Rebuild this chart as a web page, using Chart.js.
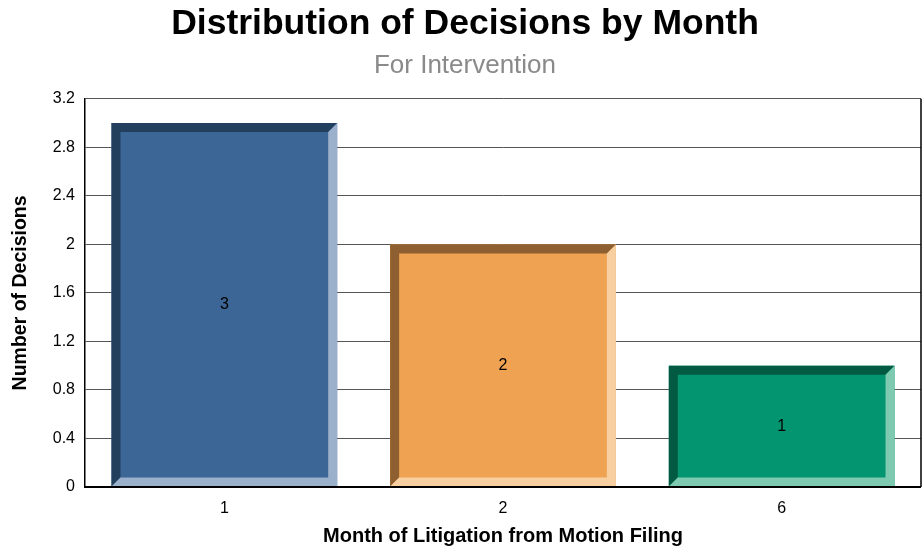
<!DOCTYPE html>
<html>
<head>
<meta charset="utf-8">
<script src="https://cdn.jsdelivr.net/npm/chart.js@4"></script>
<style>
  html, body { margin: 0; padding: 0; background: #fff; }
  #wrap { width: 924px; height: 548px; }
</style>
</head>
<body>
<div id="wrap"><canvas id="chart" width="924" height="548"></canvas></div>
<script>
const months = ['1', '2', '6'];
const decisions = [3, 2, 1];
const barColors = ['#3b6696', '#efa352', '#039570'];
const darkEdges = ['#223f5e', '#8e5f30', '#025a42'];
const lightEdges = ['#9ab0cb', '#f7cfa1', '#7ecab1'];
const yTicks = [0, 0.4, 0.8, 1.2, 1.6, 2, 2.4, 2.8, 3.2];

const FONT = "'Liberation Sans', Arial, sans-serif";

// bevelled look: dark top/left, light right/bottom
const bevelPlugin = {
    id: 'bevel',
    afterDatasetsDraw: function(chart) {
        const ctx = chart.ctx;
        const meta = chart.getDatasetMeta(0);
        meta.data.forEach(function(bar, i) {
            const L = bar.x - bar.width / 2, R = bar.x + bar.width / 2;
            const T = bar.y, B = bar.base;
            const b = 9;
            ctx.save();
            ctx.fillStyle = darkEdges[i];
            ctx.beginPath();
            ctx.moveTo(L, T); ctx.lineTo(R, T); ctx.lineTo(R - b, T + b);
            ctx.lineTo(L + b, T + b); ctx.lineTo(L + b, B - b); ctx.lineTo(L, B);
            ctx.closePath(); ctx.fill();
            ctx.fillStyle = lightEdges[i];
            ctx.beginPath();
            ctx.moveTo(R, T); ctx.lineTo(R, B); ctx.lineTo(L, B);
            ctx.lineTo(L + b, B - b); ctx.lineTo(R - b, B - b); ctx.lineTo(R - b, T + b);
            ctx.closePath(); ctx.fill();

            ctx.fillStyle = '#000';
            ctx.font = '16px ' + FONT;
            ctx.textAlign = 'center';
            ctx.textBaseline = 'middle';
            ctx.fillText(String(decisions[i]), bar.x, (T + B) / 2);
            ctx.restore();
        });

        // frame: right edge and bottom axis
        const a = chart.chartArea;
        ctx.save();
        ctx.strokeStyle = '#000';
        ctx.lineWidth = 1.5;
        ctx.beginPath();
        ctx.moveTo(a.right, a.top); ctx.lineTo(a.right, a.bottom);
        ctx.stroke();
        ctx.lineWidth = 2;
        ctx.beginPath();
        ctx.moveTo(a.left, a.bottom); ctx.lineTo(a.right, a.bottom);
        ctx.stroke();
        ctx.restore();
    }
};

new Chart(document.getElementById('chart').getContext('2d'), {
    type: 'bar',
    data: {
        labels: months,
        datasets: [{
            data: decisions,
            backgroundColor: barColors,
            borderWidth: 0,
            categoryPercentage: 1,
            barPercentage: 0.81
        }]
    },
    options: {
        responsive: false,
        animation: false,
        layout: { padding: { left: 9, right: 3, top: 0, bottom: 0 } },
        plugins: {
            legend: { display: false },
            tooltip: { enabled: false },
            title: {
                display: true,
                text: 'Distribution of Decisions by Month',
                color: '#000',
                font: { family: FONT, size: 35.5, weight: 'bold', lineHeight: 1.2 },
                padding: { top: 3, bottom: 5 }
            },
            subtitle: {
                display: true,
                text: 'For Intervention',
                color: '#8a8a8a',
                font: { family: FONT, size: 26, lineHeight: 1.2 },
                padding: { top: 0, bottom: 17 }
            }
        },
        scales: {
            x: {
                afterFit: function(scale) { scale.height = 61; },
                grid: { display: false, drawTicks: false },
                border: { display: false },
                ticks: { color: '#000', font: { family: FONT, size: 16 }, padding: 12 },
                title: {
                    display: true,
                    text: 'Month of Litigation from Motion Filing',
                    color: '#000',
                    font: { family: FONT, size: 20, weight: 'bold', lineHeight: 1.2 },
                    padding: { top: 0, bottom: 0 }
                }
            },
            y: {
                min: 0,
                max: 3.2,
                afterBuildTicks: function(scale) {
                    scale.ticks = yTicks.map(v => ({ value: v }));
                },
                afterFit: function(scale) { scale.width = 76; },
                grid: { color: '#555', drawTicks: false, lineWidth: 1 },
                border: { display: true, color: '#000', width: 1.5 },
                ticks: {
                    color: '#000',
                    font: { family: FONT, size: 16 },
                    padding: 10,
                    callback: function(v) { return String(+v.toFixed(1)); }
                },
                title: {
                    display: true,
                    text: 'Number of Decisions',
                    color: '#000',
                    font: { family: FONT, size: 19.5, weight: 'bold', lineHeight: 1.2 },
                    padding: { top: 0, bottom: 0 }
                }
            }
        }
    },
    plugins: [bevelPlugin]
});
</script>
</body>
</html>
